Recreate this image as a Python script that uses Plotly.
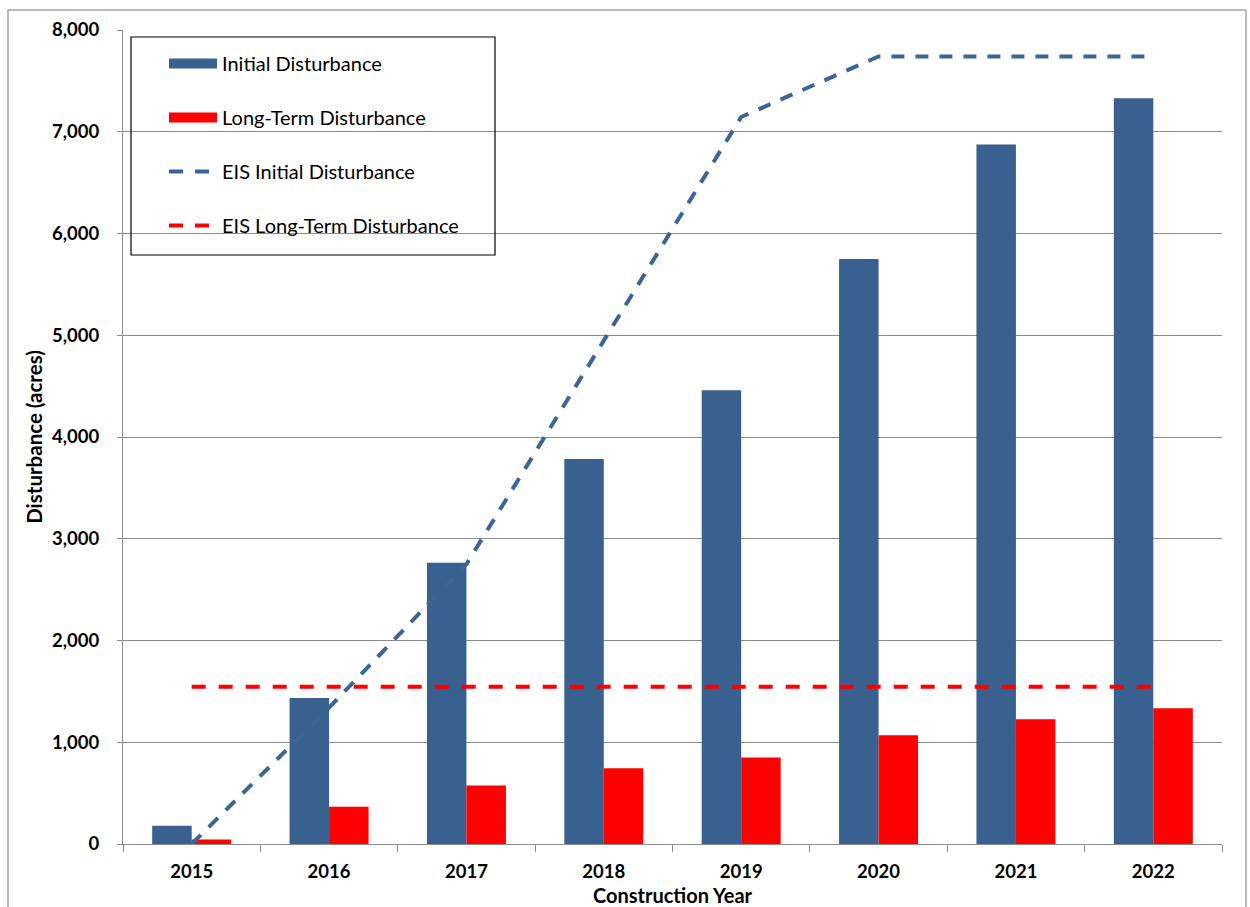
import plotly.graph_objects as go

# Construction years and disturbance acreage
years = ["2015", "2016", "2017", "2018", "2019", "2020", "2021", "2022"]
initial_disturbance = [180, 1435, 2765, 3785, 4460, 5750, 6875, 7330]
long_term_disturbance = [45, 365, 575, 745, 850, 1070, 1225, 1335]
eis_initial = [0, 1340, 2750, 4955, 7145, 7740, 7740, 7740]
eis_long_term = [1545, 1545, 1545, 1545, 1545, 1545, 1545, 1545]
y_ticks = [0, 1000, 2000, 3000, 4000, 5000, 6000, 7000, 8000]

BLUE = "#38618F"
LINE_BLUE = "#3B6596"
RED = "#FF0000"
FONT = "Lato"

fig = go.Figure()

fig.add_trace(go.Bar(
    x=years, y=initial_disturbance, name="Initial Disturbance",
    marker=dict(color=BLUE, line=dict(width=0)), showlegend=False,
    legendgroup="a",
))
fig.add_trace(go.Bar(
    x=years, y=long_term_disturbance, name="Long-Term Disturbance",
    marker=dict(color=RED, line=dict(width=0)), showlegend=False,
    legendgroup="b",
))
fig.add_trace(go.Scatter(
    x=years, y=eis_initial, name="EIS Initial Disturbance", mode="lines",
    line=dict(color=LINE_BLUE, width=4, dash="13px,11px"), showlegend=False,
    legendgroup="c",
))
fig.add_trace(go.Scatter(
    x=years, y=eis_long_term, name="EIS Long-Term Disturbance", mode="lines",
    line=dict(color=RED, width=4, dash="14px,13px"), showlegend=False,
    legendgroup="d",
))

# Legend entries: wide swatches for the bar series, dashed strokes for the lines
legend_specs = [
    ("Initial Disturbance", BLUE, 13, "solid", "a"),
    ("Long-Term Disturbance", RED, 13, "solid", "b"),
    ("EIS Initial Disturbance", LINE_BLUE, 4, "14px,12px", "c"),
    ("EIS Long-Term Disturbance", RED, 4, "14px,12px", "d"),
]
for name, color, width, dash, grp in legend_specs:
    fig.add_trace(go.Scatter(
        x=[None], y=[None], mode="lines", name=name, legendgroup=grp,
        line=dict(color=color, width=width, dash=dash), showlegend=True,
    ))

# Plot area spans x 123..1222 px and y 30..844 px
def px_x(p):
    return (p - 123) / 1099

def px_y(p):
    return (844 - p) / 814

shapes = [
    # legend frame
    dict(type="rect", xref="paper", yref="paper",
         x0=px_x(131), x1=px_x(495), y0=px_y(255), y1=px_y(37),
         line=dict(color="#000000", width=1.2), fillcolor="rgba(0,0,0,0)"),
    # outer chart frame
    dict(type="rect", xref="paper", yref="paper",
         x0=px_x(8), x1=px_x(1246), y0=px_y(912), y1=px_y(10),
         line=dict(color="#A6A6A6", width=1.5), fillcolor="rgba(0,0,0,0)"),
]

fig.update_layout(
    width=1250, height=907,
    margin=dict(l=123, r=28, t=30, b=63, pad=0, autoexpand=False),
    paper_bgcolor="white", plot_bgcolor="white",
    barmode="group", bargap=0.425, bargroupgap=0,
    font=dict(family=FONT, color="#000000"),
    shapes=shapes,
    legend=dict(
        x=px_x(164), y=px_y(44), xanchor="left", yanchor="top",
        bgcolor="rgba(0,0,0,0)", borderwidth=0,
        font=dict(family=FONT, size=20, color="#000000"),
        itemwidth=48, tracegroupgap=25, traceorder="grouped",
        itemclick=False, itemdoubleclick=False,
    ),
    xaxis=dict(
        type="category", tickson="boundaries", automargin=False,
        ticks="outside", ticklen=7, tickcolor="#8C8C8C", tickwidth=1.2,
        showline=True, linecolor="#8C8C8C", linewidth=1.2,
        showgrid=False,
        tickfont=dict(family=FONT, size=18.5, weight="bold"),
        ticklabelstandoff=11,
        title=dict(text="Construction Year", standoff=7,
                   font=dict(family=FONT, size=20, weight="bold")),
    ),
    yaxis=dict(
        range=[0, 8000], tickvals=y_ticks, tickformat=",", automargin=False,
        ticks="outside", ticklen=5, tickcolor="#8C8C8C", tickwidth=1.2,
        showline=True, linecolor="#8C8C8C", linewidth=1.2,
        showgrid=True, gridcolor="#8C8C8C", gridwidth=1.2,
        zeroline=False,
        tickfont=dict(family=FONT, size=18.5, weight="bold"),
        ticklabelstandoff=14,
        title=dict(text="Disturbance (acres)", standoff=3,
                   font=dict(family=FONT, size=20.5, weight="bold")),
    ),
)

fig.write_html("out.html")
